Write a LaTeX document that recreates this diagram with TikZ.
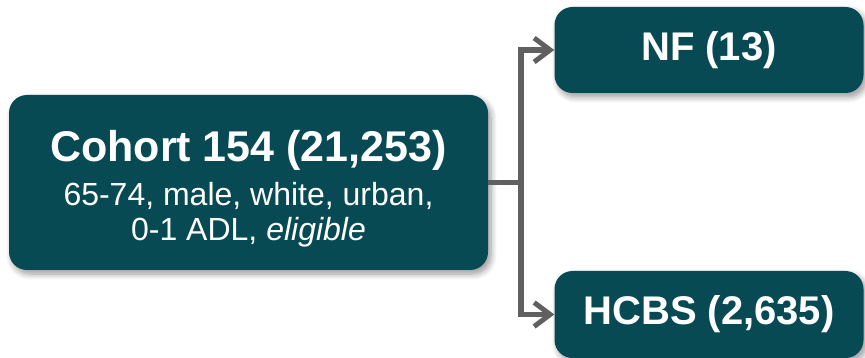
\documentclass[tikz,border=0pt]{standalone}
\usepackage{fontspec}
\setmainfont{Liberation Sans}
\usetikzlibrary{arrows.meta,shadows.blur}
\definecolor{boxteal}{RGB}{8,74,84}
\definecolor{linegray}{RGB}{96,96,96}
\tikzset{
  box/.style={draw=none, fill=boxteal, rounded corners=18pt, text=white, align=center,
    inner sep=0pt, blur shadow={shadow xshift=3pt, shadow yshift=-4pt, shadow blur radius=6pt, shadow blur steps=8, shadow opacity=40}},
  conn/.style={draw=linegray, line width=5.5pt},
  arr/.style={conn, -{Straight Barb[length=16pt,width=24pt,line width=5pt]}}
}
\begin{document}
\begin{tikzpicture}[x=1pt,y=-1pt]
\useasboundingbox (0,0) rectangle (865,358);
\node[box, minimum width=479pt, minimum height=175pt, font=\fontsize{32}{35}\selectfont] (coh) at (248.5,182.5)
  {\rule{0pt}{44pt}{\fontsize{43}{46}\selectfont\bfseries Cohort 154 (21,253)}\\[9pt]
   65-74, male, white, urban,\\
   0-1 ADL, \textit{eligible}};
\node[box, minimum width=309pt, minimum height=86pt, font=\fontsize{40}{44}\selectfont\bfseries] (nf) at (709,50) {NF (13)};
\node[box, minimum width=309pt, minimum height=87pt, font=\fontsize{40}{44}\selectfont\bfseries] (hc) at (709,314.5) {HCBS (2,635)};
\coordinate (j) at (521,182.5);
\draw[conn] (coh.east) -- (j);
\draw[arr, line join=miter] (j) |- (nf.west);
\draw[arr, line join=miter] (j) |- (hc.west);
\end{tikzpicture}
\end{document}
